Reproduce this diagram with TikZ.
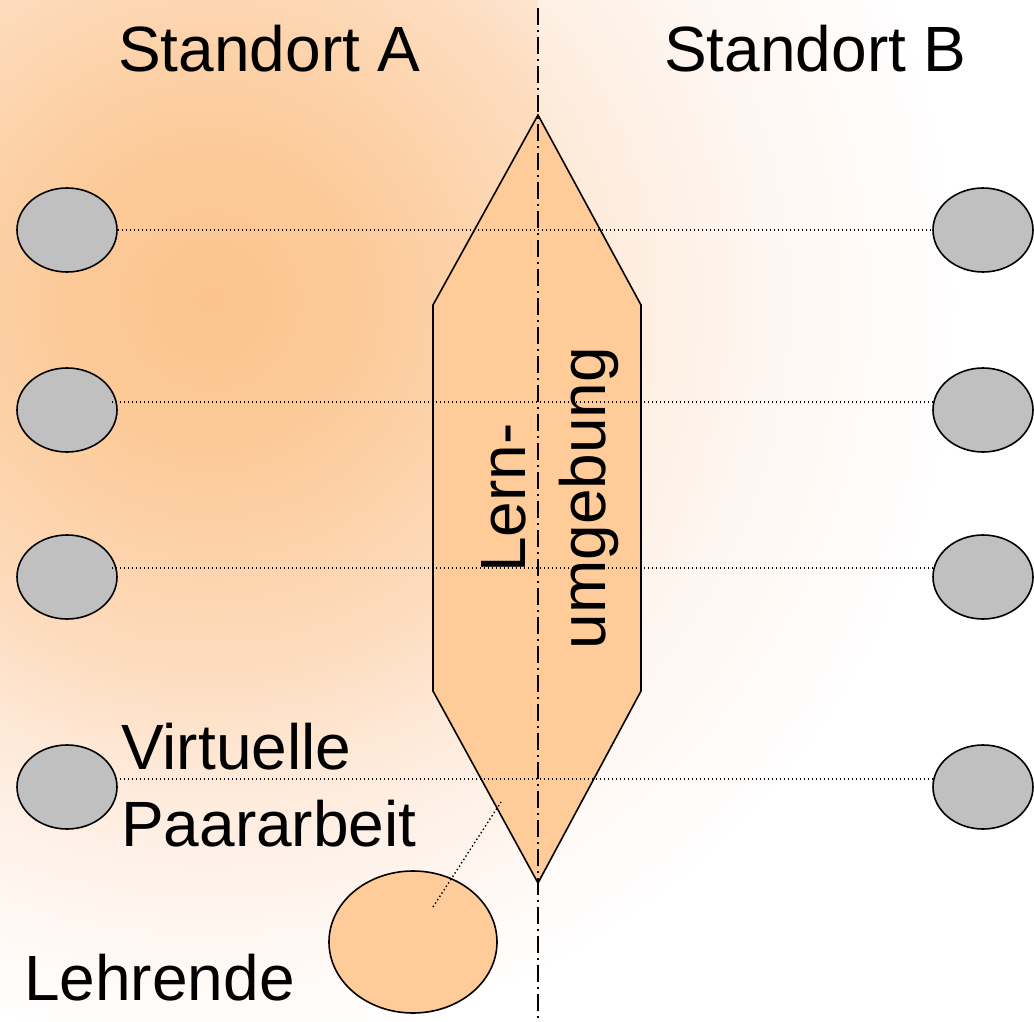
\documentclass[tikz,border=0pt]{standalone}
\usepackage{fontspec}
\setmainfont{Liberation Sans}
\usetikzlibrary{shapes.geometric}
\definecolor{gc0}{HTML}{FBC48E}
\definecolor{gc1}{HTML}{FCCA98}
\definecolor{gc2}{HTML}{FDD6B2}
\definecolor{gc3}{HTML}{FDDDC0}
\definecolor{gc4}{HTML}{FEE6D2}
\definecolor{gc5}{HTML}{FEF0E6}
\definecolor{gc6}{HTML}{FFF8F3}
\definecolor{peach}{HTML}{FFCC99}
\definecolor{greyfill}{HTML}{C0C0C0}
\pgfdeclareradialshading{glow}{\pgfpoint{0bp}{0bp}}{color(0bp)=(gc0); color(4.69bp)=(gc1); color(9.38bp)=(gc2); color(11.88bp)=(gc3); color(14.06bp)=(gc4); color(17.19bp)=(gc5); color(20.31bp)=(gc6); color(23.44bp)=(white); color(50bp)=(white)}
\begin{document}
\begin{tikzpicture}[x=1pt,y=-1pt,
  person/.style={ellipse,draw=black,line width=1.6pt,fill=greyfill,minimum width=100pt,minimum height=84pt,inner sep=0pt},
  teacher/.style={ellipse,draw=black,line width=1.6pt,fill=peach,minimum width=168pt,minimum height=142pt,inner sep=0pt},
  dotline/.style={line width=1.4pt,dash pattern=on 1.4pt off 2.6pt},
  axisline/.style={line width=1.8pt,dash pattern=on 17pt off 5pt on 2pt off 5pt},
  label/.style={inner sep=0pt,font=\fontsize{64}{77}\selectfont}
]
\useasboundingbox (0,0) rectangle (1034,1022);
% background
\begin{scope}
  \clip (0,0) rectangle (538,1022);
  \shade[shading=glow] (210,300) circle (800);
\end{scope}
\begin{scope}
  \clip (538,0) rectangle (1034,1022);
  \shade[shading=glow] (210,300) circle (800);
  \fill[white,opacity=0.4] (538,0) rectangle (1034,1022);
\end{scope}
% learning environment
\draw[fill=peach,line width=1.6pt,line join=miter]
  (538,115) -- (641,305) -- (641,691) -- (538,883) -- (433,691) -- (433,305) -- cycle;
% persons
\node[person] (L1) at (67,230) {};
\node[person] (L2) at (67,410) {};
\node[person] (L3) at (67,577) {};
\node[person] (L4) at (67,787) {};
\node[person] (R1) at (983,230) {};
\node[person] (R2) at (983,410) {};
\node[person] (R3) at (983,577) {};
\node[person] (R4) at (983,787) {};
\node[teacher] (T) at (413,942) {};
\coordinate (hexpt) at (501,802);
% connectors
\draw[dotline] (L1.east) -- (R1.west);
\draw[dotline] ([shift={(45,-8)}]L2.center) -- ([shift={(-50,-8)}]R2.center);
\draw[dotline] ([shift={(45,-9)}]L3.center) -- ([shift={(-50,-9)}]R3.center);
\draw[dotline] ([shift={(49,-8)}]L4.center) -- ([shift={(-50,-8)}]R4.center);
\draw[dotline] ([shift={(20,-35)}]T.center) -- (hexpt);
% axis
\coordinate (axtop) at (538,8);
\coordinate (axbot) at (538,1022);
\draw[axisline] (axtop) -- (axbot);
% texts
\node[label,anchor=base west] (sa) at (118,72) {Standort A};
\node[label,anchor=base west] (sb) at (664,72) {Standort B};
\node[label,anchor=north west,align=left] (vp) at (121,723) {Virtuelle\\Paararbeit};
\node[label,anchor=base west] (lh) at (24,1000) {Lehrende};
\node[inner sep=0pt,font=\fontsize{64}{80}\selectfont,align=center,rotate=90] (lu) at (550,498) {Lern-\\umgebung};
\end{tikzpicture}
\end{document}
